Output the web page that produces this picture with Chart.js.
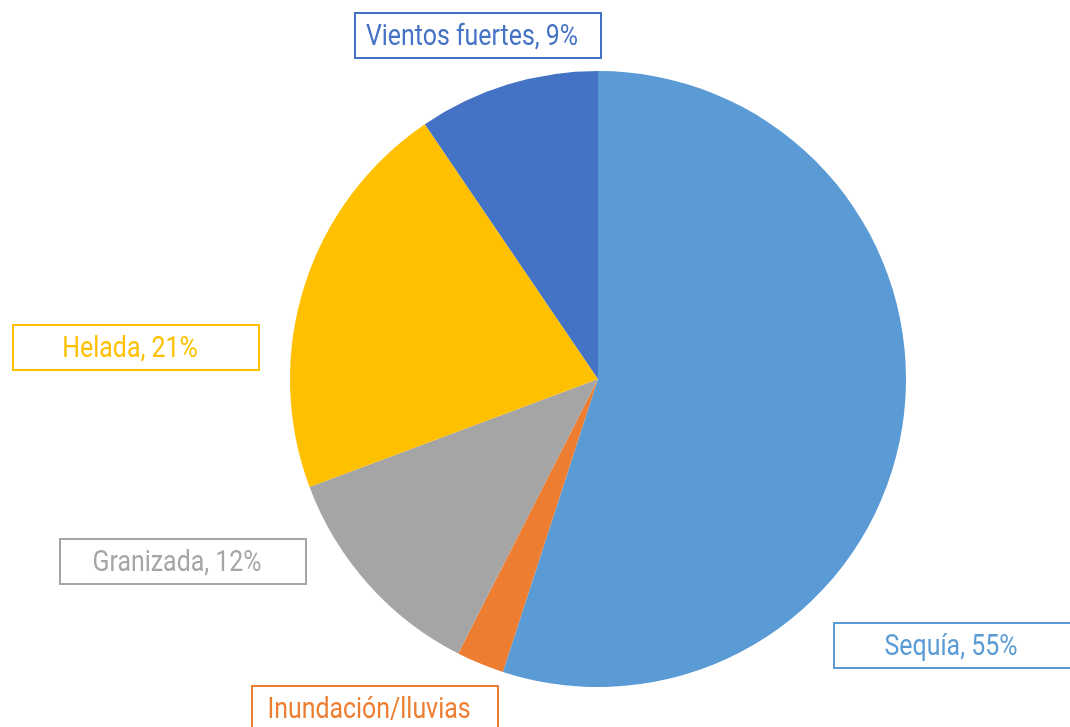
<!DOCTYPE html>
<html>
<head>
<meta charset="utf-8">
<script src="https://cdn.jsdelivr.net/npm/chart.js@4"></script>
<style>
  html, body { margin: 0; padding: 0; background: #ffffff; }
  #wrap { width: 1070px; height: 727px; }
</style>
</head>
<body>
<div id="wrap"><canvas id="pieCanvas" width="1070" height="727"></canvas></div>
<script>
// Data
const categories = ['Sequía', 'Inundación/lluvias', 'Granizada', 'Helada', 'Vientos fuertes'];
const shares = [55, 2.5, 11.8, 21.2, 9.5];
const percentLabels = ['55%', '3%', '12%', '21%', '9%'];
const sliceColors = ['#5B9BD5', '#ED7D31', '#A5A5A5', '#FFC000', '#4472C4'];

// Label boxes (left, top) for each slice, same order as categories
const boxSpots = [
    [834, 623],
    [252, 686],
    [60, 539],
    [13, 325],
    [355, 13]
];

// Draw the boxed callout labels
const boxLabels = {
    id: 'boxLabels',
    afterDraw(chart) {
        const ctx = chart.ctx;
        const boxW = 246, boxH = 45;
        ctx.save();
        categories.forEach((name, i) => {
            const [x, y] = boxSpots[i];
            ctx.strokeStyle = sliceColors[i];
            ctx.lineWidth = 2;
            ctx.strokeRect(x, y, boxW, boxH);

            // long name wraps, the value falls below the picture
            const text = i === 1 ? name : name + ', ' + percentLabels[i];
            ctx.fillStyle = sliceColors[i];
            ctx.font = '30px Roboto';
            ctx.textBaseline = 'alphabetic';
            ctx.textAlign = 'center';
            ctx.save();
            ctx.translate(x + boxW / 2 - 6, y + 32);
            ctx.scale(0.83, 1);
            ctx.fillText(text, 0, 0);
            ctx.restore();
        });
        ctx.restore();
    }
};

new Chart(document.getElementById('pieCanvas'), {
    type: 'pie',
    data: {
        labels: categories,
        datasets: [{
            data: shares,
            backgroundColor: sliceColors,
            borderWidth: 0
        }]
    },
    options: {
        responsive: false,
        animation: false,
        layout: {
            padding: { left: 290, right: 164, top: 71, bottom: 40 }
        },
        plugins: {
            legend: { display: false },
            tooltip: { enabled: false }
        }
    },
    plugins: [boxLabels]
});
</script>
</body>
</html>
